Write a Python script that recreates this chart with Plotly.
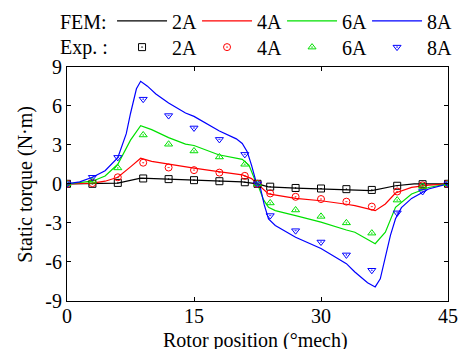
import plotly.graph_objects as go

labels = ["2A", "4A", "6A", "8A"]
colors = ["#000000", "#ff0000", "#00e000", "#0000ff"]
symbols = ["square-open-dot", "circle-open-dot", "triangle-up-open-dot", "triangle-down-open-dot"]

# FEM curves
fem_x_2A = [0, 3, 6, 8.7, 12, 15, 18, 20.7, 22.5, 23.8, 27, 30, 33, 36, 38.8, 41, 45]
fem_y_2A = [0, 0, 0.05, 0.44, 0.36, 0.29, 0.18, 0.15, 0, -0.23, -0.33, -0.41, -0.46, -0.52, -0.15, 0, 0]

fem_x_4A = [0, 3, 4.5, 6, 7.5, 8.7, 10, 12, 14, 15, 17.9, 20.7, 21.8, 22.5, 23.8, 27, 30, 33, 34, 36.4, 37.6, 38.8, 40.7, 42.7, 45]
fem_y_4A = [0, 0.05, 0.2, 0.5, 1.3, 1.96, 1.72, 1.5, 1.32, 1.2, 0.94, 0.69, 0.4, 0, -0.78, -1.12, -1.3, -1.57, -1.68, -2.06, -1.55, -0.71, -0.28, -0.1, 0]

fem_x_6A = [0, 3, 4.5, 6, 7.5, 8.7, 10, 12, 14, 15, 17.9, 20.7, 21.5, 22.2, 22.5, 23.2, 23.8, 24.6, 27, 30, 33, 34, 36.4, 37.6, 38.8, 40.7, 42.7, 45]
fem_y_6A = [0, 0.2, 0.6, 1.5, 3.35, 4.47, 4.16, 3.55, 3.05, 2.94, 2.23, 1.88, 1.42, 0.3, 0, -1.22, -1.81, -2.06, -2.44, -2.94, -3.55, -3.72, -4.6, -3.72, -1.81, -0.78, -0.28, 0]

fem_x_8A = [0, 1.5, 3, 4.5, 6, 7, 7.5, 8.2, 8.7, 9.5, 10.5, 12, 14, 15, 18, 20, 20.7, 21.3, 21.8, 22.4, 22.8, 23.3, 23.8, 24.6, 27, 30, 33, 34, 35.5, 36.4, 37, 37.6, 38.2, 38.8, 39.5, 40.7, 42.7, 45]
fem_y_8A = [0, 0.15, 0.5, 1.0, 2.0, 3.85, 5.4, 7.3, 7.87, 7.5, 6.9, 6.2, 5.44, 5.18, 4.06, 3.45, 3.1, 2.44, 1.42, 0, -0.2, -1.62, -2.69, -3.2, -4.1, -4.97, -6.13, -6.77, -7.6, -7.92, -7.3, -5.68, -3.96, -2.69, -1.83, -1.12, -0.4, 0]

# Experimental points
exp_x = [0, 3, 6, 9, 12, 15, 18, 21, 22.5, 24, 27, 30, 33, 36, 39, 42, 45]
exp_2A = [0, 0, 0.07, 0.41, 0.36, 0.28, 0.2, 0.12, 0, -0.22, -0.32, -0.36, -0.41, -0.47, -0.15, -0.03, 0]
exp_4A = [0, 0.05, 0.5, 1.62, 1.25, 1.05, 0.86, 0.61, 0, -0.74, -1.0, -1.17, -1.37, -1.75, -0.59, -0.12, 0]
exp_6A = [0, 0.2, 1.22, 3.75, 3.04, 2.52, 2.06, 1.5, 0, -1.47, -2.01, -2.5, -3.0, -3.79, -1.25, -0.2, 0]
exp_8A = [0, 0.5, 2.03, 6.5, 5.24, 4.29, 3.41, 2.26, 0, -2.44, -3.6, -4.47, -5.46, -6.64, -2.23, -0.59, 0]

x_ticks = [0, 15, 30, 45]
y_ticks = [-9, -6, -3, 0, 3, 6, 9]
y_tick_text = ["-9", "-6", "-3", "0", "3", "6", "9"]

fem_x = [fem_x_2A, fem_x_4A, fem_x_6A, fem_x_8A]
fem_y = [fem_y_2A, fem_y_4A, fem_y_6A, fem_y_8A]
exp_y = [exp_2A, exp_4A, exp_6A, exp_8A]

FONT = "Liberation Serif, Times New Roman, serif"
FS = 20

fig = go.Figure()
for i in range(4):
    fig.add_trace(go.Scatter(x=fem_x[i], y=fem_y[i], mode="lines", name=labels[i],
                             line=dict(color=colors[i], width=1.2), legend="legend"))
for i in range(4):
    fig.add_trace(go.Scatter(x=exp_x, y=exp_y[i], mode="markers", name=labels[i],
                             marker=dict(symbol=symbols[i], size=7, color=colors[i],
                                         line=dict(color=colors[i], width=1)),
                             legend="legend2"))

axis_common = dict(showgrid=False, zeroline=False, showline=True, linecolor="black",
                   linewidth=1, mirror="ticks", ticks="inside", ticklen=4,
                   tickcolor="black", automargin=False,
                   tickfont=dict(family=FONT, size=FS, color="black"))

leg_common = dict(orientation="h", xanchor="right", yanchor="middle", x=0.987,
                  xref="container", yref="container",
                  font=dict(family=FONT, size=FS), entrywidth=20, entrywidthmode="pixels",
                  bgcolor="rgba(0,0,0,0)", itemwidth=50, tracegroupgap=0)

fig.update_layout(
    width=458, height=349,
    margin=dict(l=67, r=10, t=66, b=48),
    paper_bgcolor="white", plot_bgcolor="white",
    font=dict(family=FONT, size=FS, color="black"),
    xaxis=dict(range=[0, 45], tickvals=x_ticks, ticklabelstandoff=-3, **axis_common),
    yaxis=dict(range=[-9, 9], tickvals=y_ticks, ticktext=y_tick_text, **axis_common),
    legend=dict(y=0.940, **leg_common),
    legend2=dict(y=0.865, **leg_common),
    showlegend=True,
    annotations=[
        dict(text="FEM:", xref="paper", yref="paper", x=-0.024, y=1.19,
             xanchor="left", yanchor="middle", showarrow=False,
             font=dict(family=FONT, size=FS)),
        dict(text="Exp. :", xref="paper", yref="paper", x=-0.024, y=1.081,
             xanchor="left", yanchor="middle", showarrow=False,
             font=dict(family=FONT, size=FS)),
        dict(text="Rotor position (°mech)", xref="paper", yref="paper", x=0.496, y=-0.168,
             xanchor="center", yanchor="middle", showarrow=False,
             font=dict(family=FONT, size=FS)),
        dict(text="Static torque (N·m)", xref="paper", yref="paper", x=-0.108, y=0.5,
             xanchor="center", yanchor="middle", textangle=-90, showarrow=False,
             font=dict(family=FONT, size=FS)),
    ],
)

fig.write_html("out.html", config={"displayModeBar": False},
               post_script="document.body.style.margin='0';")
